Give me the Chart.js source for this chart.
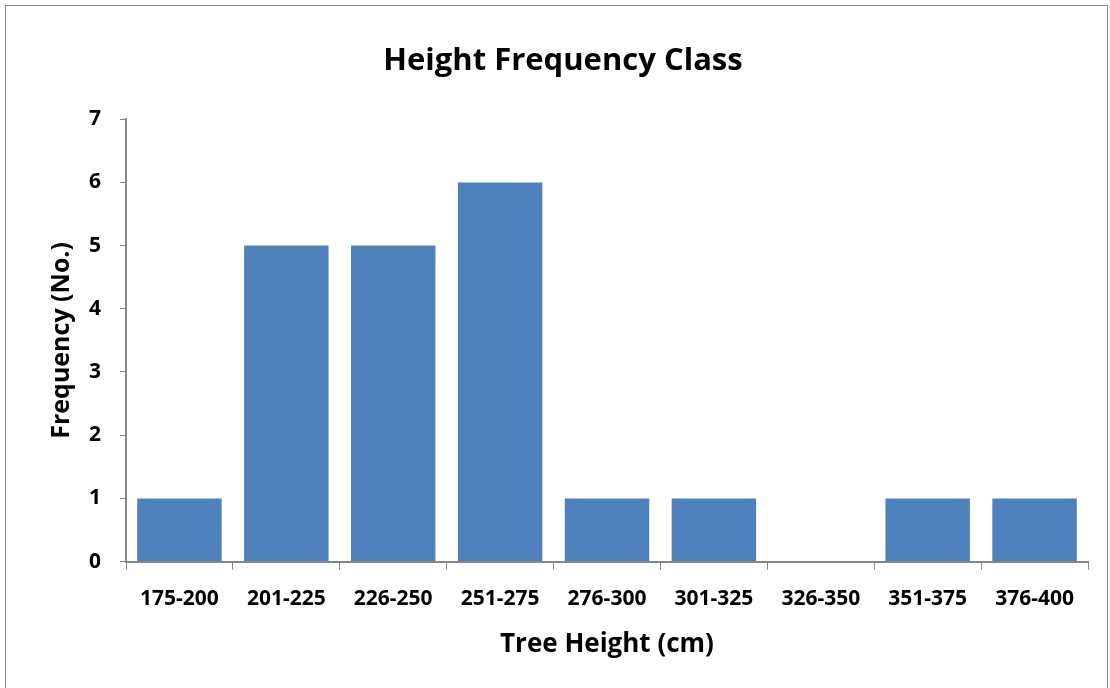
<!DOCTYPE html>
<html>
<head>
<meta charset="utf-8">
<script src="https://cdn.jsdelivr.net/npm/chart.js@4.4.0/dist/chart.umd.min.js"></script>
<style>
    html, body { margin: 0; padding: 0; background: #ffffff; }
    #marco { position: absolute; left: 5px; top: 5px; width: 1101px; height: 700px; border: 1px solid #8c8c8c; }
    #contenedor { position: absolute; left: 0; top: 0; width: 1110px; height: 688px; }
</style>
</head>
<body>
<div id="marco"></div>
<div id="contenedor"><canvas id="graficaAlturas" width="1110" height="688"></canvas></div>
<script>

const clases = ['175-200', '201-225', '226-250', '251-275', '276-300', '301-325', '326-350', '351-375', '376-400'];
const frecuencias = [1, 5, 5, 6, 1, 1, 0, 1, 1];
const ticksY = [0, 1, 2, 3, 4, 5, 6, 7];

const fuente = "'Open Sans', 'Liberation Sans', sans-serif";
const gris = '#868686';

const ctx = document.getElementById('graficaAlturas');
const grafica = new Chart(ctx, {
    type: 'bar',
    data: {
        labels: clases,
        datasets: [{
            label: 'Frequency',
            data: frecuencias,
            backgroundColor: '#4f81bd',
            borderWidth: 0,
            barPercentage: 0.79,
            categoryPercentage: 1
        }]
    },
    options: {
        responsive: false,
        animation: false,
        layout: {
            padding: { left: 38, right: 22, top: 0, bottom: 0 }
        },
        plugins: {
            legend: { display: false },
            tooltip: { enabled: false },
            title: {
                display: true,
                text: 'Height Frequency Class',
                color: '#000000',
                font: { family: fuente, size: 31, weight: 'bold' },
                padding: { top: 43, bottom: 39 }
            }
        },
        scales: {
            x: {
                grid: {
                    display: true,
                    offset: true,
                    drawOnChartArea: false,
                    drawTicks: true,
                    tickLength: 8,
                    color: gris
                },
                border: { display: true, color: gris, width: 2 },
                ticks: {
                    color: '#000000',
                    font: { family: fuente, size: 21, weight: 'bold' },
                    padding: 17,
                    maxRotation: 0
                },
                title: {
                    display: true,
                    text: 'Tree Height (cm)',
                    color: '#000000',
                    font: { family: fuente, size: 26, weight: 'bold' },
                    padding: { top: 0, bottom: 28 }
                }
            },
            y: {
                min: 0,
                max: 7,
                afterBuildTicks: function (escala) {
                    escala.ticks = ticksY.map(v => ({ value: v }));
                },
                afterFit: function (escala) {
                    escala.width = 88;
                },
                grid: {
                    display: true,
                    drawOnChartArea: false,
                    drawTicks: true,
                    tickLength: 6,
                    color: gris
                },
                border: { display: true, color: gris, width: 2 },
                ticks: {
                    color: '#000000',
                    font: { family: fuente, size: 21, weight: 'bold' },
                    padding: 19
                },
                title: {
                    display: true,
                    text: 'Frequency (No.)',
                    color: '#000000',
                    font: { family: fuente, size: 25, weight: 'bold' },
                    padding: { top: 9, bottom: 12 }
                }
            }
        }
    }
});

</script>
</body>
</html>
